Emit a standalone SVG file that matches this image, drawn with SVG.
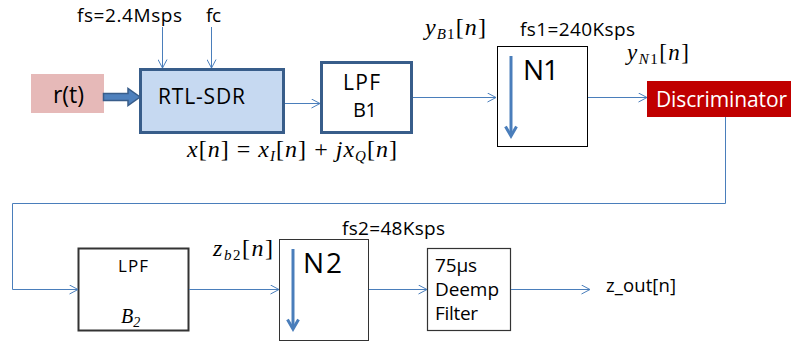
<svg xmlns="http://www.w3.org/2000/svg" width="791" height="341" viewBox="0 0 791 341">
<defs>
<marker id="open" viewBox="0 0 10 10" refX="9.5" refY="5" markerWidth="10" markerHeight="10" markerUnits="userSpaceOnUse" orient="auto">
<path d="M1,0.5 L9.5,5 L1,9.5" fill="none" stroke="#4a7ebb" stroke-width="1"/>
</marker>
</defs>
<style>
.sans{font-family:"Open Sans","Liberation Sans",sans-serif;fill:#000}
.math{font-family:"Liberation Serif","DejaVu Serif",serif;fill:#000}
.it{font-style:italic}
.conn{fill:none;stroke:#4a7ebb;stroke-width:1;marker-end:url(#open)}
.dec{fill:none;stroke:#4a7ebb;stroke-width:3}
</style>
<rect width="791" height="341" fill="#fff"/>

<g id="rt">
<rect x="31" y="74" width="73" height="39" fill="#e6b9b8"/>
<text class="sans" x="53" y="103" font-size="23" textLength="31">r(t)</text>
</g>

<g id="rtlsdr">
<rect x="140.5" y="69.5" width="143" height="63" fill="#c6d9f1" stroke="#385d8a" stroke-width="3"/>
<text class="sans" x="158" y="104" font-size="21" textLength="87">RTL-SDR</text>
</g>

<g id="lpfb1">
<rect x="321.5" y="62.5" width="90" height="70" fill="#fff" stroke="#385d8a" stroke-width="3"/>
<text class="sans" x="343" y="90" font-size="21" textLength="37">LPF</text>
<text class="sans" x="353" y="117" font-size="20" textLength="24">B1</text>
</g>

<g id="n1">
<rect x="497.5" y="46.5" width="90" height="100" fill="#fff" stroke="#000" stroke-width="1"/>
<path class="dec" d="M511,56 V135"/>
<path class="dec" d="M505.5,126.5 L511,136 L516.5,126.5"/>
<text class="sans" x="523" y="80" font-size="28" textLength="36">N1</text>
</g>

<g id="disc">
<rect x="647" y="81" width="150" height="36" fill="#c00000"/>
<text class="sans" x="656" y="107" font-size="21" textLength="131" style="fill:#fff">Discriminator</text>
</g>

<g id="lpfb2">
<rect x="78.5" y="248.5" width="110" height="82" fill="#fff" stroke="#333" stroke-width="2"/>
<text class="sans" x="118" y="272" font-size="17" textLength="30">LPF</text>
<text class="math it" x="121" y="323" font-size="20">B<tspan font-size="14" dy="4">2</tspan></text>
</g>

<g id="n2">
<rect x="279.5" y="239.5" width="89" height="101" fill="#fff" stroke="#333" stroke-width="1"/>
<path class="dec" d="M293,249 V328"/>
<path class="dec" d="M287.5,319.5 L293,329 L298.5,319.5"/>
<text class="sans" x="303" y="273" font-size="28" textLength="39">N2</text>
</g>

<g id="deemp">
<rect x="427.5" y="248.5" width="83" height="82" fill="#fff" stroke="#333" stroke-width="1.2"/>
<text class="sans" x="435" y="272" font-size="19" textLength="42">75µs</text>
<text class="sans" x="435" y="296" font-size="19" textLength="64">Deemp</text>
<text class="sans" x="435" y="320" font-size="19" textLength="43">Filter</text>
</g>

<g id="labels">
<text class="sans" x="77" y="22" font-size="19" textLength="105">fs=2.4Msps</text>
<text class="sans" x="206" y="22" font-size="19" textLength="15">fc</text>
<text class="sans" x="520" y="36" font-size="19" textLength="115">fs1=240Ksps</text>
<text class="sans" x="342" y="235" font-size="19" textLength="103">fs2=48Ksps</text>
<text class="sans" x="606" y="292" font-size="18.5" textLength="70">z_out[n]</text>
<text class="math" x="187" y="157" font-size="24" textLength="210"><tspan class="it">x</tspan>[<tspan class="it">n</tspan>] = <tspan class="it">x</tspan><tspan class="it" font-size="15" dy="4">I</tspan><tspan dy="-4">[</tspan><tspan class="it">n</tspan>] + <tspan class="it">jx</tspan><tspan class="it" font-size="15" dy="4">Q</tspan><tspan dy="-4">[</tspan><tspan class="it">n</tspan>]</text>
<text class="math" x="425" y="35" font-size="24" textLength="61"><tspan class="it">y</tspan><tspan class="it" font-size="15" dy="4">B</tspan><tspan font-size="15">1</tspan><tspan dy="-4">[</tspan><tspan class="it">n</tspan>]</text>
<text class="math" x="627" y="60" font-size="23" textLength="62"><tspan class="it">y</tspan><tspan class="it" font-size="15" dy="4">N</tspan><tspan font-size="15">1</tspan><tspan dy="-4">[</tspan><tspan class="it">n</tspan>]</text>
<text class="math" x="213" y="256" font-size="24" textLength="60"><tspan class="it">z</tspan><tspan class="it" font-size="15" dy="4">b</tspan><tspan font-size="15">2</tspan><tspan dy="-4">[</tspan><tspan class="it">n</tspan>]</text>
</g>

<g id="connectors">
<path d="M103.5,93.5 H128 V88.5 L140,97 L128,105.5 V100.5 H103.5 Z" fill="#4f81bd" stroke="#385d8a" stroke-width="1.5"/>
<path class="conn" d="M162.5,27 V68"/>
<path class="conn" d="M211.5,27 V68"/>
<path class="conn" d="M285,103.5 H320"/>
<path class="conn" d="M413,97.5 H496"/>
<path class="conn" d="M588,97.5 H647"/>
<path class="conn" d="M725.5,117 V203.5 H12.5 V289.5 H78"/>
<path class="conn" d="M189,289.5 H279"/>
<path class="conn" d="M369,289.5 H427"/>
<path class="conn" d="M511,289.5 H590"/>
</g>
</svg>
